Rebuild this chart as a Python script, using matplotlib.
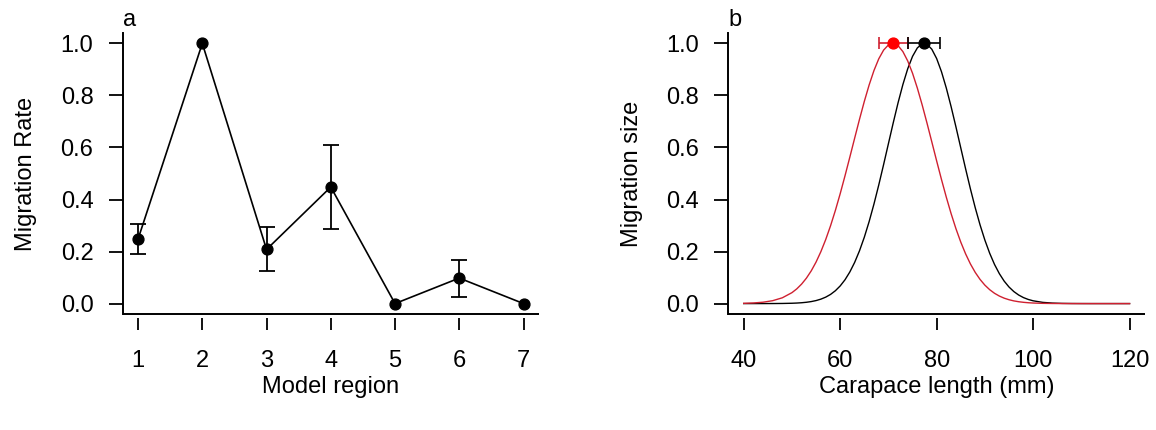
import matplotlib
matplotlib.use("Agg")
import matplotlib.pyplot as plt

plt.rcParams["font.family"] = ["Liberation Sans", "DejaVu Sans"]
plt.rcParams["font.size"] = 17

# panel a: migration rate by model region
regions = [1, 2, 3, 4, 5, 6, 7]
rate = [0.248, 1.0, 0.208, 0.448, 0.0, 0.098, 0.0]
rate_lo = [0.190, 1.0, 0.126, 0.286, 0.0, 0.026, 0.0]
rate_hi = [0.306, 1.0, 0.293, 0.609, 0.0, 0.169, 0.0]

# panel b: migration size curves over carapace length (finer steps near the peaks)
length_mm = ([40, 42, 44, 46, 48] + list(range(50, 101)) +
             [102, 104, 106, 108, 110, 112, 114, 116, 118, 120])
size_black = ([0.0, 0.00001, 0.00005, 0.00016, 0.00046] +
              [0.00126, 0.00204, 0.00323, 0.00503, 0.0077, 0.01156, 0.01706,
               0.02474, 0.0352, 0.0493, 0.0678, 0.0915, 0.1215, 0.1583, 0.2027,
               0.2549, 0.3150, 0.3824, 0.4560, 0.5341, 0.6146, 0.6948, 0.7717,
               0.8419, 0.9023, 0.9501, 0.9827, 0.9986, 0.9968, 0.9775, 0.9417,
               0.8912, 0.8285, 0.7567, 0.6790, 0.5985, 0.5182, 0.4408, 0.3683,
               0.3024, 0.2439, 0.1932, 0.1503, 0.1150, 0.0863, 0.0637, 0.0462,
               0.0329, 0.0230, 0.0158, 0.0107] +
              [0.0046, 0.0019, 0.0007, 0.00024, 0.00008, 0.0, 0.0, 0.0, 0.0, 0.0])
size_red = ([0.00098, 0.00233, 0.00524, 0.0111, 0.0222] +
            [0.0420, 0.0565, 0.0749, 0.0978, 0.1258, 0.1596, 0.1997, 0.2461,
             0.2989, 0.3578, 0.4222, 0.4911, 0.5628, 0.6357, 0.7079, 0.7768,
             0.8401, 0.8955, 0.9408, 0.9741, 0.9941, 0.9999, 0.9913, 0.9685,
             0.9326, 0.8852, 0.8280, 0.7634, 0.6936, 0.6212, 0.5483, 0.4770,
             0.4090, 0.3456, 0.2878, 0.2363, 0.1912, 0.1524, 0.1198, 0.0928,
             0.0708, 0.0533, 0.0395, 0.0289, 0.0208, 0.0148, 0.0103, 0.00713,
             0.00485, 0.00325, 0.00214] +
            [0.0009, 0.00035, 0.00013, 0.00005, 0.0, 0.0, 0.0, 0.0, 0.0, 0.0])
peak_black, peak_black_lo, peak_black_hi = 77.4, 74.1, 80.7
peak_red, peak_red_lo, peak_red_hi = 70.9, 68.1, 74.1

yticks = [0.0, 0.2, 0.4, 0.6, 0.8, 1.0]
red_line = "#cf2030"

fig = plt.figure(figsize=(11.56, 4.30), dpi=100)
ax_a = fig.add_axes([0.1061, 0.2698, 0.3601, 0.6535])
ax_b = fig.add_axes([0.6300, 0.2698, 0.3605, 0.6535])


def style_axes(ax):
    # L-shaped box, y ticks on the box, x ticks set slightly below it
    for s in ("top", "right"):
        ax.spines[s].set_visible(False)
    ax.spines["left"].set_linewidth(1.4)
    ax.spines["bottom"].set_position(("outward", 3))
    ax.spines["bottom"].set_visible(False)
    ax.plot([0, 1], [0, 0], transform=ax.transAxes, color="black",
            lw=1.4, clip_on=False, solid_capstyle="butt")
    ax.tick_params(axis="y", direction="out", length=10, width=1.3, pad=11)
    ax.tick_params(axis="x", direction="out", length=8.6, width=1.3, pad=14)
    ax.set_ylim(-0.04, 1.04)
    ax.set_yticks(yticks)
    ax.set_yticklabels([f"{v:.1f}" for v in yticks])


# --- panel a ---
style_axes(ax_a)
# whiskers only where the interval has some width
bars = [(x, r, lo, hi) for x, r, lo, hi in zip(regions, rate, rate_lo, rate_hi) if hi > lo]
bx = [b[0] for b in bars]
by = [b[1] for b in bars]
yerr = [[b[1] - b[2] for b in bars], [b[3] - b[1] for b in bars]]
ax_a.errorbar(bx, by, yerr=yerr, fmt="none", ecolor="black",
              elinewidth=1.3, capsize=5.6, capthick=1.3)
ax_a.plot(regions, rate, color="black", lw=1.2, marker="o", markersize=7.8)
ax_a.set_xlim(0.76, 7.24)
ax_a.set_xticks(regions)
ax_a.set_xlabel("Model region")
ax_a.set_ylabel("Migration Rate")
ax_a.xaxis.set_label_coords(0.5, -0.222)
ax_a.yaxis.set_label_coords(-0.205, 0.5)
ax_a.text(0.0, 1.025, "a", transform=ax_a.transAxes, ha="left", va="baseline")

# --- panel b ---
style_axes(ax_b)
ax_b.plot(length_mm, size_black, color="black", lw=1.0)
ax_b.plot(length_mm, size_red, color=red_line, lw=1.0)
ax_b.errorbar([peak_red], [1.0],
              xerr=[[peak_red - peak_red_lo], [peak_red_hi - peak_red]],
              fmt="o", color="red", ecolor=red_line, markersize=7.8,
              elinewidth=1.2, capsize=4.3, capthick=1.2)
ax_b.errorbar([peak_black], [1.0],
              xerr=[[peak_black - peak_black_lo], [peak_black_hi - peak_black]],
              fmt="o", color="black", markersize=7.8,
              elinewidth=1.2, capsize=4.3, capthick=1.2)
ax_b.set_xlim(36.8, 123.2)
ax_b.set_xticks([40, 60, 80, 100, 120])
ax_b.set_xlabel("Carapace length (mm)")
ax_b.set_ylabel("Migration size")
ax_b.xaxis.set_label_coords(0.5, -0.222)
ax_b.yaxis.set_label_coords(-0.205, 0.5)
ax_b.text(0.0, 1.025, "b", transform=ax_b.transAxes, ha="left", va="baseline")

fig.savefig("out.png", dpi=100)
